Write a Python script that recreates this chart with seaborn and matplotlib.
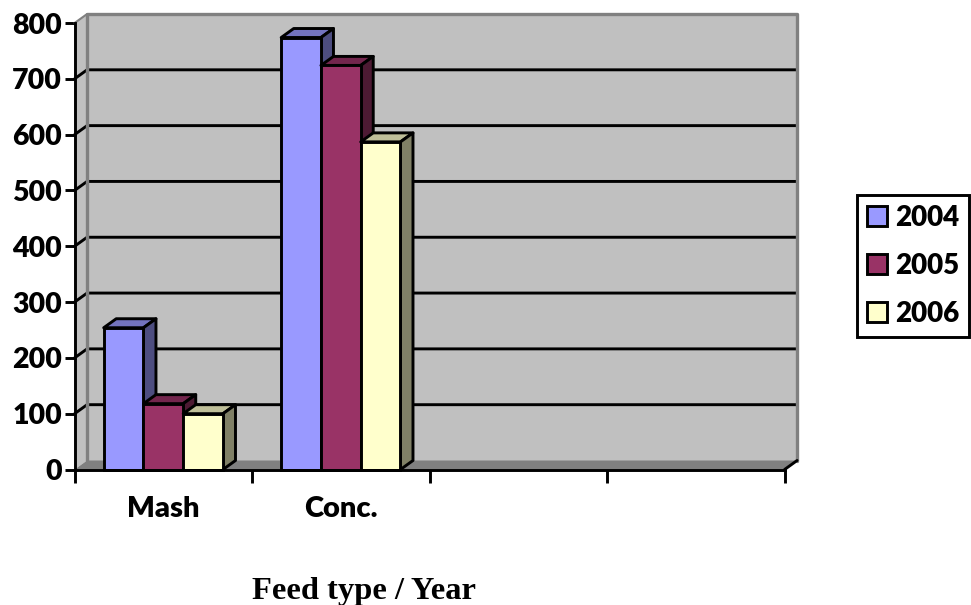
import pandas as pd
import matplotlib
matplotlib.use('Agg')
import matplotlib.pyplot as plt
from matplotlib.colors import to_rgb
from matplotlib.patches import Polygon
from matplotlib.transforms import IdentityTransform
import seaborn as sns

# values
categories = ['Mash', 'Conc.', ' ', '  ']
years = ['2004', '2005', '2006']
values_2004 = [254, 774, None, None]
values_2005 = [118, 724, None, None]
values_2006 = [100, 587, None, None]
y_ticks = [0, 100, 200, 300, 400, 500, 600, 700, 800]
colors = ['#9999FF', '#993366', '#FFFFCC']

data = pd.DataFrame({
    'feed': categories * 3,
    'year': [y for y in years for _ in categories],
    'value': values_2004 + values_2005 + values_2006,
})
data['value'] = data['value'].astype(float)

sns.set_style('white')
plt.rcParams['font.family'] = ['Lato', 'DejaVu Sans']

W, H = 971, 605
WEIGHT = 'heavy'
LW = 2.1
fig = plt.figure(figsize=(W / 100, H / 100), dpi=100)
ax = fig.add_axes([74.6 / W, (H - 469.5) / H, 710 / W, 446.5 / H])

sns.barplot(data=data, x='feed', y='value', hue='year', order=categories, hue_order=years,
            palette=dict(zip(years, colors)), width=0.672, gap=0, saturation=1,
            edgecolor='black', linewidth=LW, ax=ax)
ax.set_xlim(-0.5, 3.5)
ax.set_ylim(0, 800)

# bars as seaborn drew them, before the depth faces get added
bars = [b for c in ax.containers for b in c if b.get_height() > 0]
bars.sort(key=lambda b: b.get_x())

# fake 3D depth in pixels
DX, DY = 12.5, 9


def px(x, y, back=False):
    p = ax.transData.transform((x, y))
    return (p[0] + DX, p[1] + DY) if back else (p[0], p[1])


def poly(pts, face, edge='none', lw=0, z=1):
    ax.add_patch(Polygon(pts, closed=True, facecolor=face, edgecolor=edge, linewidth=lw,
                         transform=IdentityTransform(), clip_on=False, zorder=z, joinstyle='round'))


def shade(c, k):
    return tuple(v * k for v in to_rgb(c))


# walls and floor
x0, x1 = ax.get_xlim()
poly([px(x0, 0, True), px(x0, 800, True), px(x1, 800, True), px(x1, 0, True)], '#C0C0C0', z=0.5)
poly([px(x0, 0), px(x0, 800), px(x0, 800, True), px(x0, 0, True)], '#C0C0C0', z=0.5)
poly([px(x0, 0), px(x0, 0, True), px(x1, 0, True), px(x1, 0)], '#808080', z=0.6)

for t in y_ticks[1:-1]:
    a, b = px(x0, t), px(x0, t, True)
    c = px(x1, t, True)
    ax.plot([a[0], b[0], c[0]], [a[1], b[1], c[1]], color='black', lw=LW,
            transform=IdentityTransform(), clip_on=False, zorder=0.8, solid_joinstyle='miter')

# gray edges of the back wall
a, b, c, d = px(x0, 0, True), px(x0, 800, True), px(x1, 800, True), px(x1, 0, True)
ax.plot([a[0], b[0], c[0], d[0]], [a[1], b[1], c[1], d[1]], color='#808080', lw=2.4,
        transform=IdentityTransform(), clip_on=False, zorder=0.9)
a, b = px(x0, 800), px(x0, 800, True)
ax.plot([a[0], b[0]], [a[1], b[1]], color='#808080', lw=1.5,
        transform=IdentityTransform(), clip_on=False, zorder=0.9)
a, b = px(x1, 0), px(x1, 0, True)
ax.plot([a[0], b[0]], [a[1], b[1]], color='black', lw=LW,
        transform=IdentityTransform(), clip_on=False, zorder=0.9)

# bar tops and sides, left to right so that each bar covers the previous one
for i, bar in enumerate(bars):
    l, r, top = bar.get_x(), bar.get_x() + bar.get_width(), bar.get_height()
    col = bar.get_facecolor()
    z = 3 + i
    poly([px(l, top), px(l, top, True), px(r, top, True), px(r, top)], shade(col[:3], 0.75), 'black', LW, z)
    poly([px(r, 0), px(r, top), px(r, top, True), px(r, 0, True)], shade(col[:3], 0.5), 'black', LW, z)
    bar.set_zorder(z + 0.5)
    bar.set_clip_on(False)

# axes, ticks, labels
sns.despine(ax=ax, top=True, right=True)
for side in ['left', 'bottom']:
    ax.spines[side].set_linewidth(LW)
    ax.spines[side].set_color('black')
    ax.spines[side].set_zorder(20)
ax.set_yticks(y_ticks)
ax.set_xticks([-0.5, 0.5, 1.5, 2.5, 3.5])
ax.set_xticklabels([])
ax.set_xticks([0, 1], labels=categories[:2], minor=True)
ax.tick_params(axis='y', which='major', left=True, length=7, width=LW, color='black', pad=2,
               labelsize=20.5, labelcolor='black')
ax.tick_params(axis='x', which='major', bottom=True, length=9, width=LW, color='black')
ax.tick_params(axis='x', which='minor', bottom=False, length=0, pad=19, labelsize=21, labelcolor='black')
for lab in ax.get_yticklabels() + ax.get_xticklabels(minor=True):
    lab.set_fontweight(WEIGHT)
ax.set_xlabel('')
ax.set_ylabel('')

sns.move_legend(ax, 'upper left', bbox_to_anchor=(857 / W, 1 - 194.5 / H), bbox_transform=fig.transFigure,
                title=None, frameon=True, fancybox=False, framealpha=1, edgecolor='black',
                handlelength=0.72, handleheight=0.72, handletextpad=0.28, labelspacing=0.8,
                borderpad=0.36, borderaxespad=0, labelcolor='black',
                prop={'weight': WEIGHT, 'size': 20})
leg = ax.get_legend()
leg.get_frame().set_linewidth(LW)
leg.set_zorder(30)

fig.text(364 / W, 1 - 592 / H, 'Feed type / Year', family='Liberation Serif', weight='bold',
         fontsize=23.4, ha='center', va='center', color='black')

plt.savefig('out.png', dpi=100)
